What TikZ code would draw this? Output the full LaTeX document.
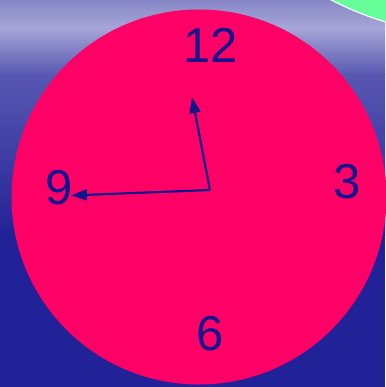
\documentclass[tikz,border=0pt]{standalone}
\usepackage{fontspec}
\setmainfont{Liberation Sans}
\usetikzlibrary{arrows.meta}
\definecolor{clockface}{RGB}{255,0,102}
\definecolor{ink}{RGB}{20,20,140}
\definecolor{mint}{RGB}{102,255,153}
\definecolor{skytop}{RGB}{135,135,200}
\definecolor{skypale}{RGB}{165,165,215}
\definecolor{skymid}{RGB}{88,88,178}
\definecolor{skylow}{RGB}{34,34,152}
\begin{document}
\begin{tikzpicture}[
  numeral/.style={inner sep=0pt,text=ink,font=\fontsize{49}{49}\selectfont},
  hand/.style={draw=ink,line width=2.2pt,-{Triangle[length=16pt,width=11pt]}}]
  \useasboundingbox (0,0) rectangle (385pt,-387pt);
  % background: pale streaked sky fading into deep blue
  \fill[skylow] (0,0) rectangle (385pt,-387pt);
  \shade[top color=skytop,bottom color=skypale] (0,0) rectangle (385pt,-28pt);
  \shade[top color=skypale,bottom color=skymid] (0,-28pt) rectangle (385pt,-75pt);
  \shade[top color=skymid,bottom color=skylow] (0,-75pt) rectangle (385pt,-235pt);
  % green disc in the corner
  \filldraw[fill=mint,draw=white,line width=1.2pt] (470pt,265pt) circle (299pt);
  % clock face
  \fill[clockface] (199pt,-197pt) circle (187.5pt);
  % numerals
  \node[numeral] (n12) at (211pt,-45.5pt) {12};
  \node[numeral] (n3) at (347pt,-181.5pt) {3};
  \node[numeral] (n6) at (210.5pt,-333.5pt) {6};
  \node[numeral] (n9) at (59pt,-188pt) {9};
  % hands
  \coordinate (hub) at (210pt,-190pt);
  \coordinate (tipA) at (192pt,-97pt);
  \coordinate (tipB) at (71pt,-195.5pt);
  \draw[hand] (hub) -- (tipA);
  \draw[hand] (hub) -- (tipB);
\end{tikzpicture}
\end{document}
